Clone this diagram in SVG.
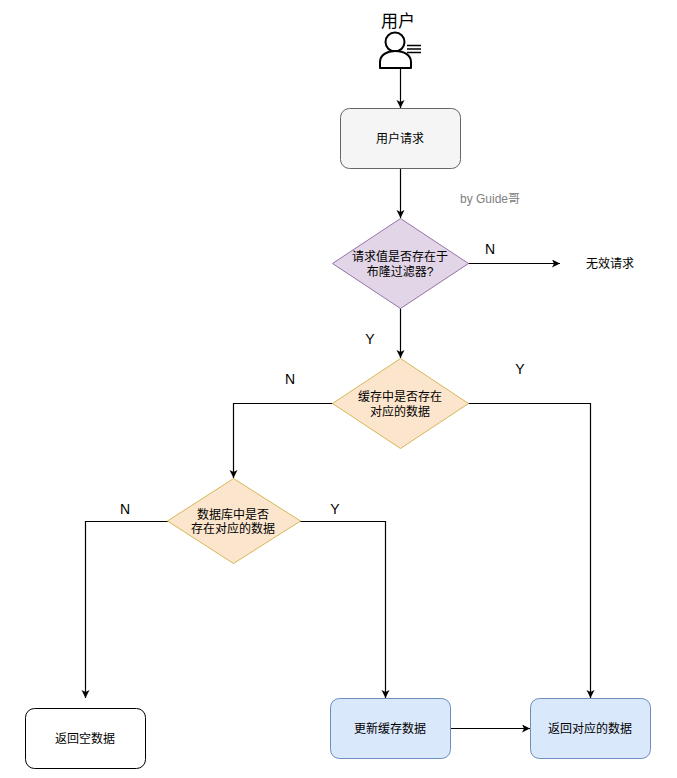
<svg xmlns="http://www.w3.org/2000/svg" width="677" height="778" viewBox="0 0 677 778">
<style>
text{font-family:"Liberation Sans","Noto Sans CJK SC",sans-serif;text-anchor:middle;fill:#000}
.t{font-size:12px}
.l{font-size:14px}
.c{fill:none;stroke:#000;stroke-width:1.2}
.gray{fill:#f5f5f5;stroke:#666}
.purple{fill:#e1d5e7;stroke:#9673a6}
.orange{fill:#fce5cd;stroke:#d6b656}
.blue{fill:#dae8fc;stroke:#6c8ebf}
.white{fill:#fff;stroke:#000}
</style>
<defs>
<marker id="a" markerUnits="userSpaceOnUse" markerWidth="9" markerHeight="9" refX="8" refY="4" orient="auto"><path d="M0 0L8 4L0 8L2 4Z" fill="#000"/></marker>
</defs>
<rect width="677" height="778" fill="#fff"/>
<g id="connectors">
<path class="c" marker-end="url(#a)" d="M400.500 69V108"/>
<path class="c" marker-end="url(#a)" d="M400.500 168V218"/>
<path class="c" marker-end="url(#a)" d="M468 263.500H560"/>
<path class="c" marker-end="url(#a)" d="M400.500 308V358"/>
<path class="c" marker-end="url(#a)" d="M333 403.500H233.500V478"/>
<path class="c" marker-end="url(#a)" d="M468 403.500H590.500V698"/>
<path class="c" marker-end="url(#a)" d="M168 521.500H85.500V698"/>
<path class="c" marker-end="url(#a)" d="M300 521.500H385.500V698"/>
<path class="c" marker-end="url(#a)" d="M450 728.500H530"/>
</g>
<g id="user">
<text x="398" y="27" font-size="17px">用户</text>
<circle cx="395" cy="42" r="9.500" fill="#fff" stroke="#000" stroke-width="2"/>
<path d="M380 68V62C380 55 387 51 395 51C404 51 411 55 411 62V68Z" fill="#fff" stroke="#000" stroke-width="2" stroke-linejoin="round"/>
<path d="M407 45.500H421M407 49H421M407 52.500H421" fill="none" stroke="#000" stroke-width="1.500"/>
</g>
<g id="request"><rect class="gray" x="340.500" y="108.500" width="120" height="60" rx="9"/><text class="t" x="400" y="143">用户请求</text></g>
<g id="watermark"><text x="490" y="203" font-size="12px" style="fill:#808080">by Guide哥</text></g>
<g id="bloom"><path class="purple" d="M400.500 218.500L468.500 263.500L400.500 308.500L332.500 263.500Z"/><text class="t" x="400" y="261">请求值是否存在于</text><text class="t" x="400" y="276">布隆过滤器?</text></g>
<g id="invalid"><text class="t" x="610" y="268">无效请求</text></g>
<g id="cache"><path class="orange" d="M400.500 358.500L468.500 403.500L400.500 448.500L332.500 403.500Z"/><text class="t" x="400" y="401">缓存中是否存在</text><text class="t" x="400" y="416">对应的数据</text></g>
<g id="db"><path class="orange" d="M233.500 478.500L300.500 521L233.500 563.500L167.500 521Z"/><text class="t" x="233" y="519">数据库中是否</text><text class="t" x="233" y="533">存在对应的数据</text></g>
<g id="empty"><rect class="white" x="25.500" y="708.500" width="120" height="60" rx="9"/><text class="t" x="85" y="743">返回空数据</text></g>
<g id="update"><rect class="blue" x="330.500" y="698.500" width="120" height="60" rx="9"/><text class="t" x="390" y="733">更新缓存数据</text></g>
<g id="return"><rect class="blue" x="530.500" y="698.500" width="120" height="60" rx="9"/><text class="t" x="590" y="733">返回对应的数据</text></g>
<g id="labels">
<text class="l" x="490" y="254">N</text>
<text class="l" x="370" y="344">Y</text>
<text class="l" x="290" y="384">N</text>
<text class="l" x="520" y="374">Y</text>
<text class="l" x="125" y="514">N</text>
<text class="l" x="335" y="514">Y</text>
</g>
</svg>
